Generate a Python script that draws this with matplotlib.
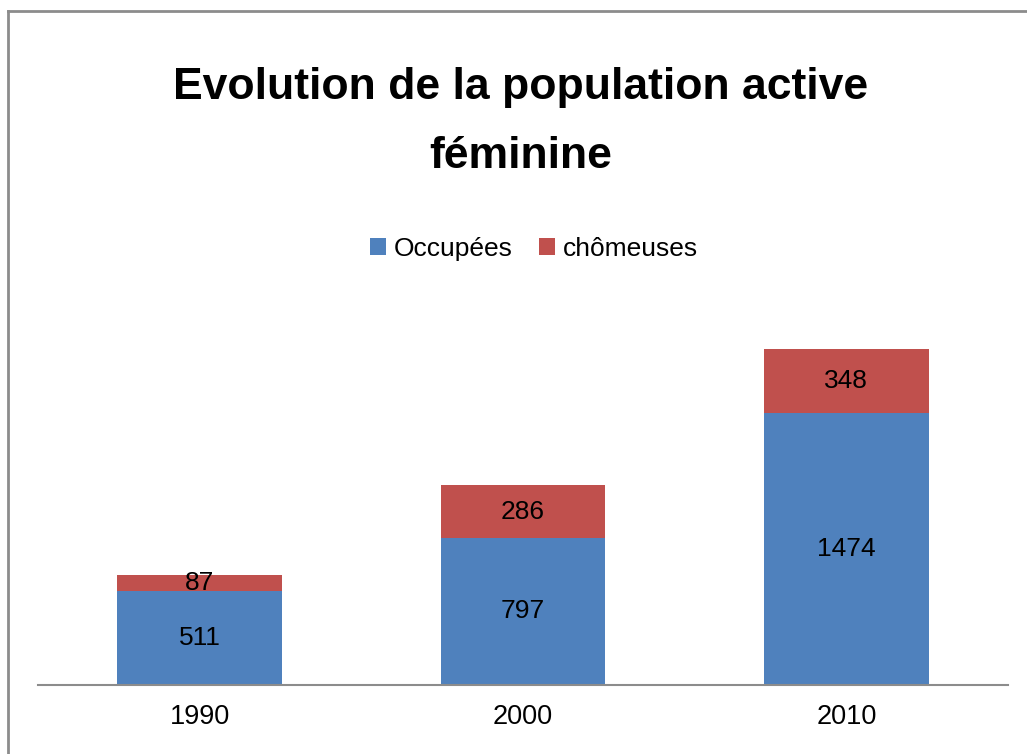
import matplotlib.pyplot as plt
import numpy as np
from matplotlib.lines import Line2D

years = ["1990", "2000", "2010"]
occupees = [511, 797, 1474]
chomeuses = [87, 286, 348]

plt.rcParams["font.family"] = ["Liberation Sans", "DejaVu Sans"]

fig = plt.figure(figsize=(10.27, 7.54), dpi=100)
ax = fig.add_axes([38 / 1027, 1 - 685 / 754, 970 / 1027, 369 / 754])

x = np.arange(len(years))
w = 0.51
blue = "#4F81BD"
red = "#C0504D"
b1 = ax.bar(x, occupees, w, color=blue, label="Occupées")
b2 = ax.bar(x, chomeuses, w, bottom=occupees, color=red, label="chômeuses")

for i in range(len(years)):
    ax.text(x[i], occupees[i] / 2, str(occupees[i]), ha="center", va="center", fontsize=19)
    ax.text(x[i], occupees[i] + chomeuses[i] / 2, str(chomeuses[i]), ha="center", va="center", fontsize=19)

ax.set_xlim(-0.5, 2.5)
ax.set_ylim(0, 2000)
ax.set_xticks(x)
ax.set_xticklabels(years, fontsize=19.5)
ax.tick_params(axis="x", length=0, pad=14)
ax.set_yticks([])
for s in ["top", "right", "left"]:
    ax.spines[s].set_visible(False)
ax.spines["bottom"].set_color("#8c8c8c")
ax.spines["bottom"].set_linewidth(1.5)

fig.text(0.507, 1 - 122 / 754, "Evolution de la population active\nféminine", ha="center", va="center",
         fontsize=32, fontweight="bold", linespacing=1.86)

fig.legend(handles=[b1, b2], loc="center", bbox_to_anchor=(0.52, 1 - 249 / 754), ncol=2, frameon=False,
           fontsize=19, handlelength=0.6, handleheight=0.6, handletextpad=0.3, columnspacing=1.0)

# outer chart frame (only left and top edges visible in the picture)
fig.add_artist(Line2D([8 / 1027, 8 / 1027], [0, 1 - 11 / 754], transform=fig.transFigure, color="#8c8c8c", lw=2))
fig.add_artist(Line2D([8 / 1027, 1], [1 - 11 / 754, 1 - 11 / 754], transform=fig.transFigure, color="#8c8c8c", lw=2))

plt.savefig("out.png", dpi=100)
